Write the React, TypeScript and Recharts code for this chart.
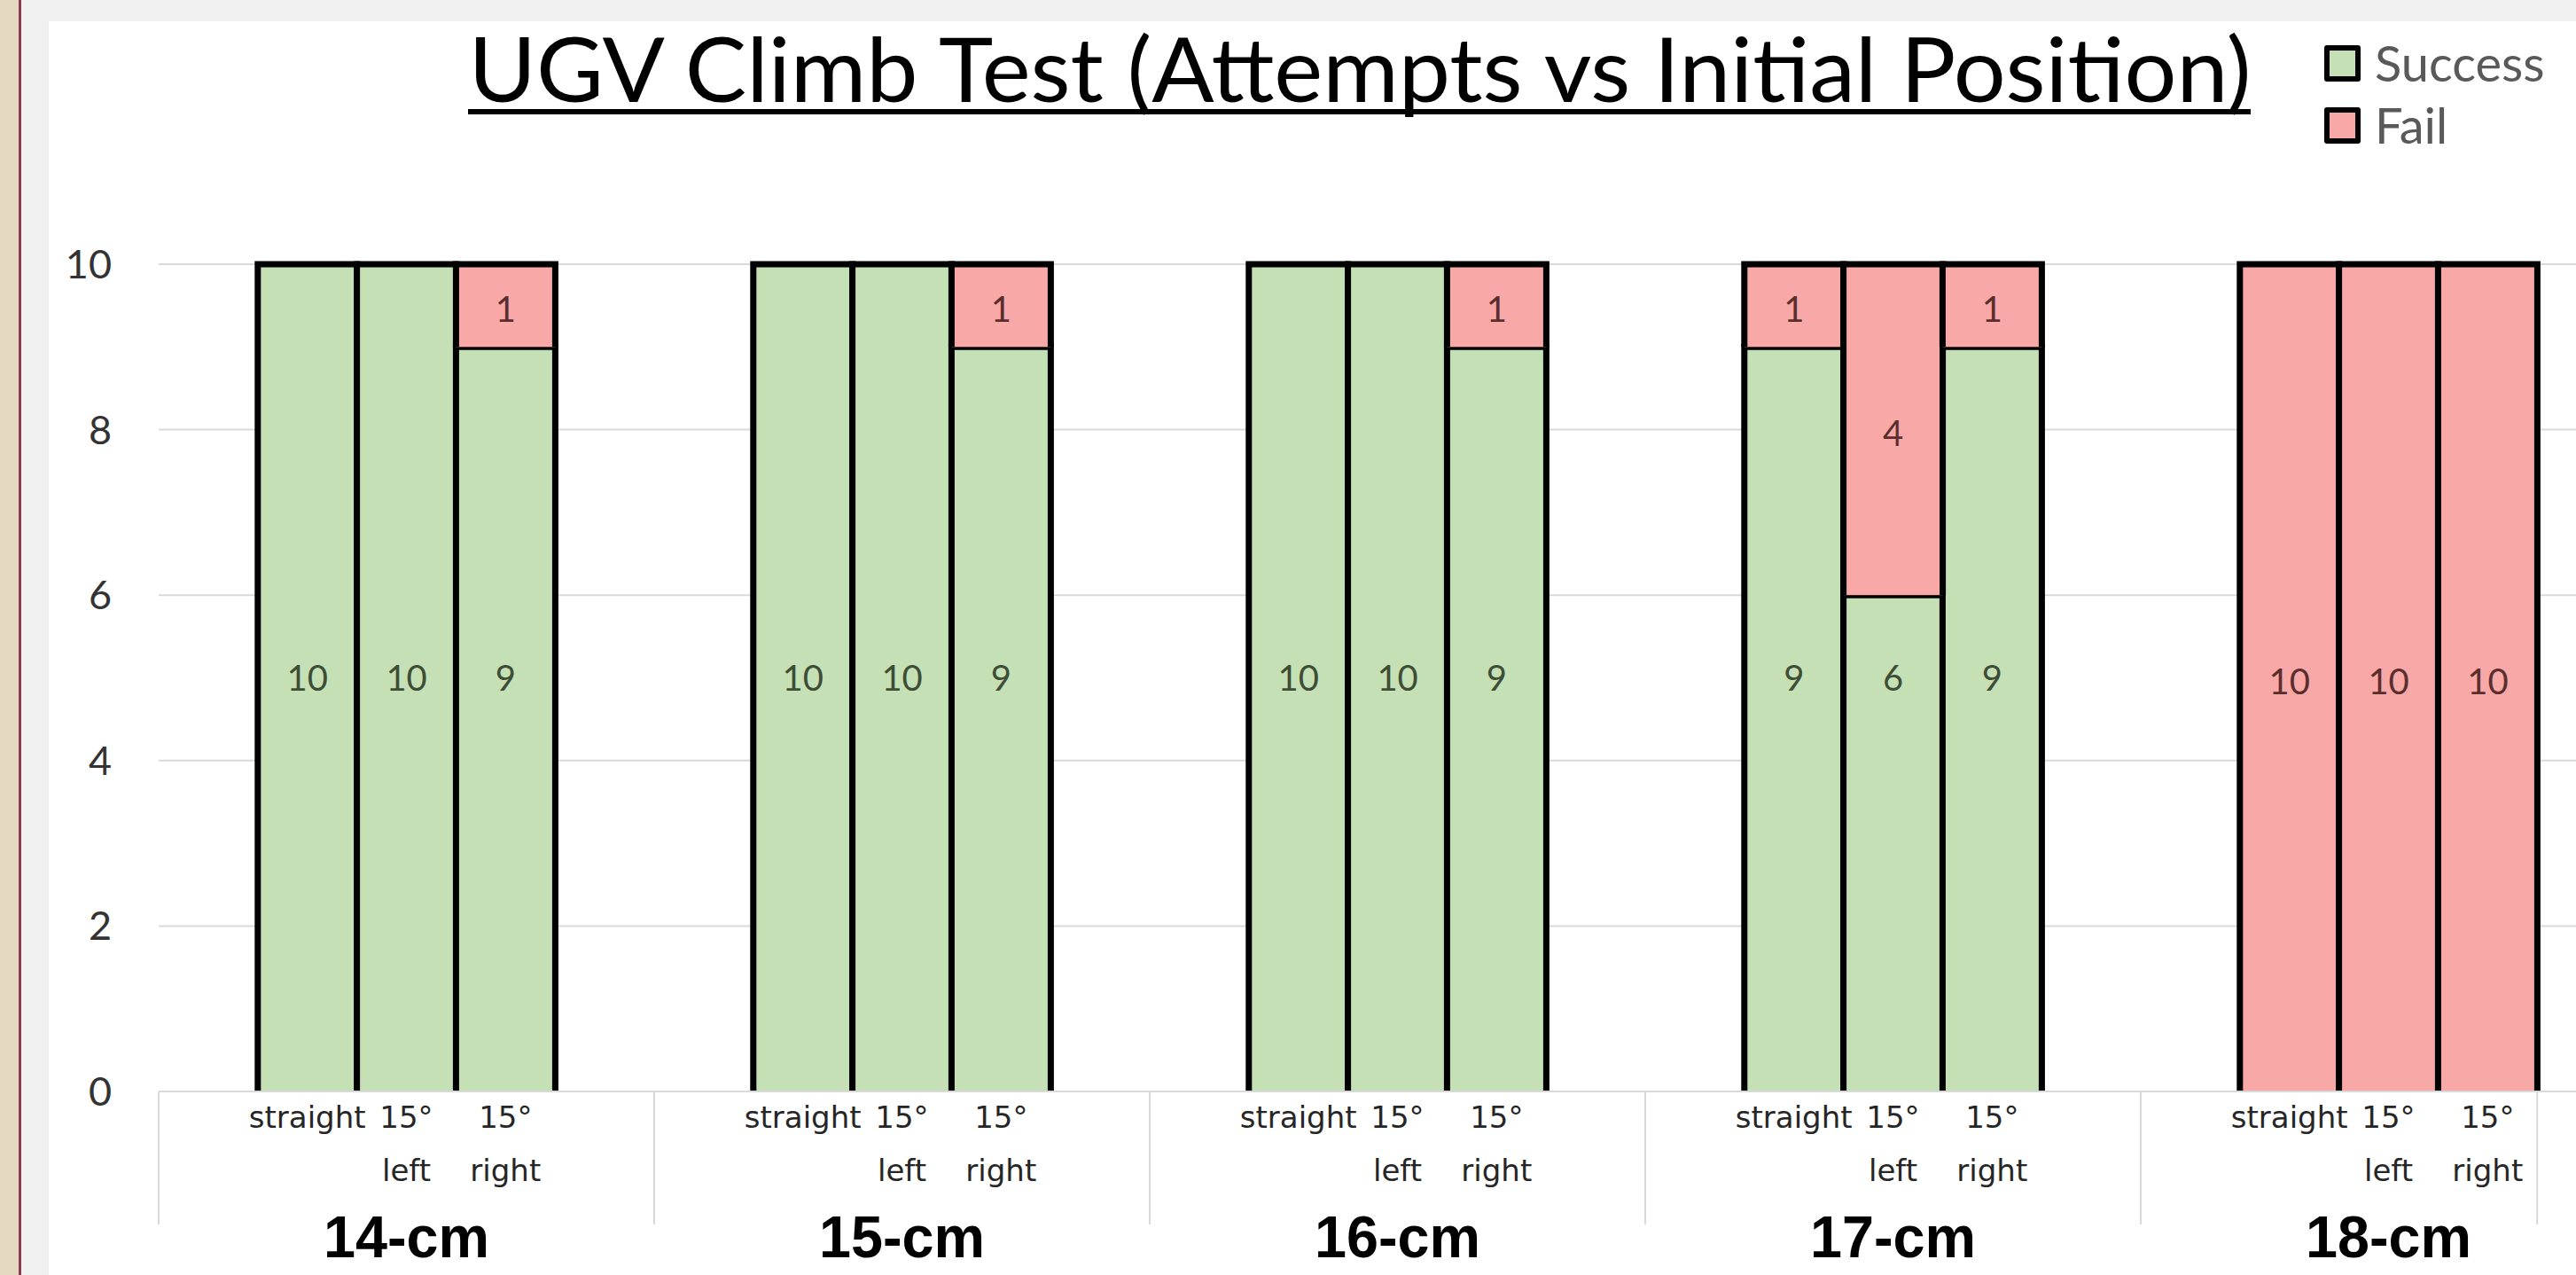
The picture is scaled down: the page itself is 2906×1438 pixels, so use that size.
import React from "react"
import { BarChart, Bar, XAxis, YAxis, CartesianGrid, Legend, LabelList } from "recharts"

// climb heights tested, each with three start positions
const heights = ["14-cm", "15-cm", "16-cm", "17-cm", "18-cm"]
const positions = ["straight", "15° left", "15° right"]
const successCounts = [
  [10, 10, 9],
  [10, 10, 9],
  [10, 10, 9],
  [9, 6, 9],
  [0, 0, 0],
]
const failCounts = [
  [0, 0, 1],
  [0, 0, 1],
  [0, 0, 1],
  [1, 4, 1],
  [10, 10, 10],
]
const yTicks = [0, 2, 4, 6, 8, 10]
const legendOrder = ["Success", "Fail"]

const GREEN = "#c5e0b4"
const PINK = "#f9a8a8"
const GRID = "#d9d9d9"

// excel sheet had a blank row before and after every height group
const rows: Array<any> = []
heights.forEach((h, gi) => {
  rows.push({ key: `${h}-a`, group: h, slot: 0, label: "", success: null, fail: null })
  positions.forEach((p, pi) => {
    rows.push({
      key: `${h}-${p}`,
      group: h,
      slot: pi + 1,
      label: p,
      success: successCounts[gi][pi],
      fail: failCounts[gi][pi],
    })
  })
  rows.push({ key: `${h}-b`, group: h, slot: 4, label: "", success: null, fail: null })
})

const CHART_W = 2930
const CHART_H = 1414
const MARGIN = { top: 274, right: 11, bottom: 0, left: 0 }
const Y_AXIS_W = 124
const X_AXIS_H = 207
const PLOT_W = CHART_W - MARGIN.left - MARGIN.right - Y_AXIS_W
const lastDataIndex = rows.map((r) => r.success !== null).lastIndexOf(true)

function CategoryTick(props: any) {
  const { x, y, payload } = props
  const row = rows[payload.index]
  if (!row) return null
  const slot = PLOT_W / rows.length
  const parts = row.label.split(" ")
  const first = parts.length > 1 ? parts[0] : row.label
  const second = parts.length > 1 ? parts.slice(1).join(" ") : ""
  return (
    <g>
      {row.slot === 0 && <line x1={x - slot / 2} x2={x - slot / 2} y1={y} y2={y + 150} stroke={GRID} strokeWidth={2} />}
      {payload.index === lastDataIndex && (
        <line x1={x + slot / 2} x2={x + slot / 2} y1={y} y2={y + 150} stroke={GRID} strokeWidth={2} />
      )}
      {row.label && (
        <text x={x} y={y + 41} textAnchor="middle" fontFamily="DejaVu Sans" fontSize={34} fill="#262626">
          {first}
        </text>
      )}
      {second && (
        <text x={x} y={y + 101} textAnchor="middle" fontFamily="DejaVu Sans" fontSize={34} fill="#262626">
          {second}
        </text>
      )}
      {row.slot === 2 && (
        <text
          x={x}
          y={y + 187}
          textAnchor="middle"
          fontFamily="Liberation Sans"
          fontWeight="bold"
          fontSize={66}
          textLength={187}
          lengthAdjust="spacingAndGlyphs"
          fill="#000"
        >
          {row.group}
        </text>
      )}
    </g>
  )
}

// outline on top and sides only: the axis line covers the bar bottoms in the original
function OpenBar(props: any) {
  const { x, y, width, height, fill } = props
  if (!height || height <= 0) return null
  return (
    <g>
      <rect x={x} y={y} width={width} height={height} fill={fill} />
      <path
        d={`M${x},${y + height} L${x},${y} L${x + width},${y} L${x + width},${y + height}`}
        fill="none"
        stroke="#000"
        strokeWidth={7}
        strokeLinejoin="miter"
      />
    </g>
  )
}

// success labels sit at the value-5 line, like the original sheet
function SuccessLabel(props: any) {
  const { x, y, width, height, value } = props
  if (!value) return null
  const perUnit = height / value
  return (
    <text x={x + width / 2} y={y + height - perUnit * 5} dy="0.35em" textAnchor="middle" fontFamily="Lato" fontSize={40} fill="#3e4d35">
      {value}
    </text>
  )
}

function FailLabel(props: any) {
  const { x, y, width, height, value } = props
  if (!value) return null
  return (
    <text x={x + width / 2} y={y + height / 2 + 4} dy="0.35em" textAnchor="middle" fontFamily="Lato" fontSize={40} fill="#5b2e2e">
      {value}
    </text>
  )
}

function LegendBox({ payload }: any) {
  const items = [...(payload || [])].sort((a: any, b: any) => legendOrder.indexOf(a.value) - legendOrder.indexOf(b.value))
  return (
    <div>
      {items.map((item: any) => (
        <div key={item.value} style={{ display: "flex", alignItems: "center", height: 70 }}>
          <span
            style={{
              display: "inline-block",
              width: 41,
              height: 41,
              boxSizing: "border-box",
              border: "6px solid #000",
              borderRadius: 3,
              background: item.color,
            }}
          />
          <span style={{ marginLeft: 16, fontFamily: "Lato", fontSize: 56, color: "#595959", lineHeight: "70px" }}>
            {item.value}
          </span>
        </div>
      ))}
    </div>
  )
}

export default function App() {
  return (
    <div
      style={{
        position: "fixed",
        left: 0,
        top: 0,
        width: 2906,
        height: 1438,
        overflow: "hidden",
        background: "#f0f0f0",
      }}
    >
      <div style={{ position: "absolute", left: 0, top: 0, width: 21, height: 1438, background: "#e5d9c1" }} />
      <div style={{ position: "absolute", left: 21, top: 0, width: 3, height: 1438, background: "#8c3b4c" }} />
      <div
        style={{
          position: "absolute",
          left: 55,
          top: 24,
          width: 2851,
          height: 1414,
          overflow: "hidden",
          background: "#fff",
        }}
      >
        <BarChart width={CHART_W} height={CHART_H} data={rows} margin={MARGIN} barCategoryGap={0}>
          <CartesianGrid vertical={false} stroke={GRID} strokeWidth={2} />
          <XAxis
            dataKey="key"
            interval={0}
            height={X_AXIS_H}
            axisLine={{ stroke: GRID, strokeWidth: 2 }}
            tickLine={false}
            tickSize={0}
            tickMargin={0}
            tick={<CategoryTick />}
          />
          <YAxis
            domain={[0, 10]}
            ticks={yTicks}
            width={Y_AXIS_W}
            axisLine={false}
            tickLine={false}
            tickSize={0}
            tickMargin={53}
            tick={{ fontSize: 45, fill: "#333", fontFamily: "Lato" }}
          />
          <Legend
            layout="vertical"
            align="center"
            verticalAlign="middle"
            wrapperStyle={{ left: 2567, top: 12, width: 300 }}
            content={<LegendBox />}
          />
          <Bar dataKey="success" name="Success" stackId="a" fill={GREEN} shape={<OpenBar />} isAnimationActive={false}>
            <LabelList dataKey="success" content={<SuccessLabel />} />
          </Bar>
          <Bar dataKey="fail" name="Fail" stackId="a" fill={PINK} shape={<OpenBar />} isAnimationActive={false}>
            <LabelList dataKey="fail" content={<FailLabel />} />
          </Bar>
        </BarChart>
      </div>
      <svg style={{ position: "absolute", left: 0, top: 0 }} width={2906} height={200}>
        <text
          x={1534}
          y={115}
          textAnchor="middle"
          fontFamily="Lato"
          fontSize={100}
          textLength={2011}
          lengthAdjust="spacingAndGlyphs"
          fill="#000"
        >
          UGV Climb Test (Attempts vs Initial Position)
        </text>
        <line x1={528} x2={2539} y1={126} y2={126} stroke="#000" strokeWidth={6} />
      </svg>
    </div>
  )
}
